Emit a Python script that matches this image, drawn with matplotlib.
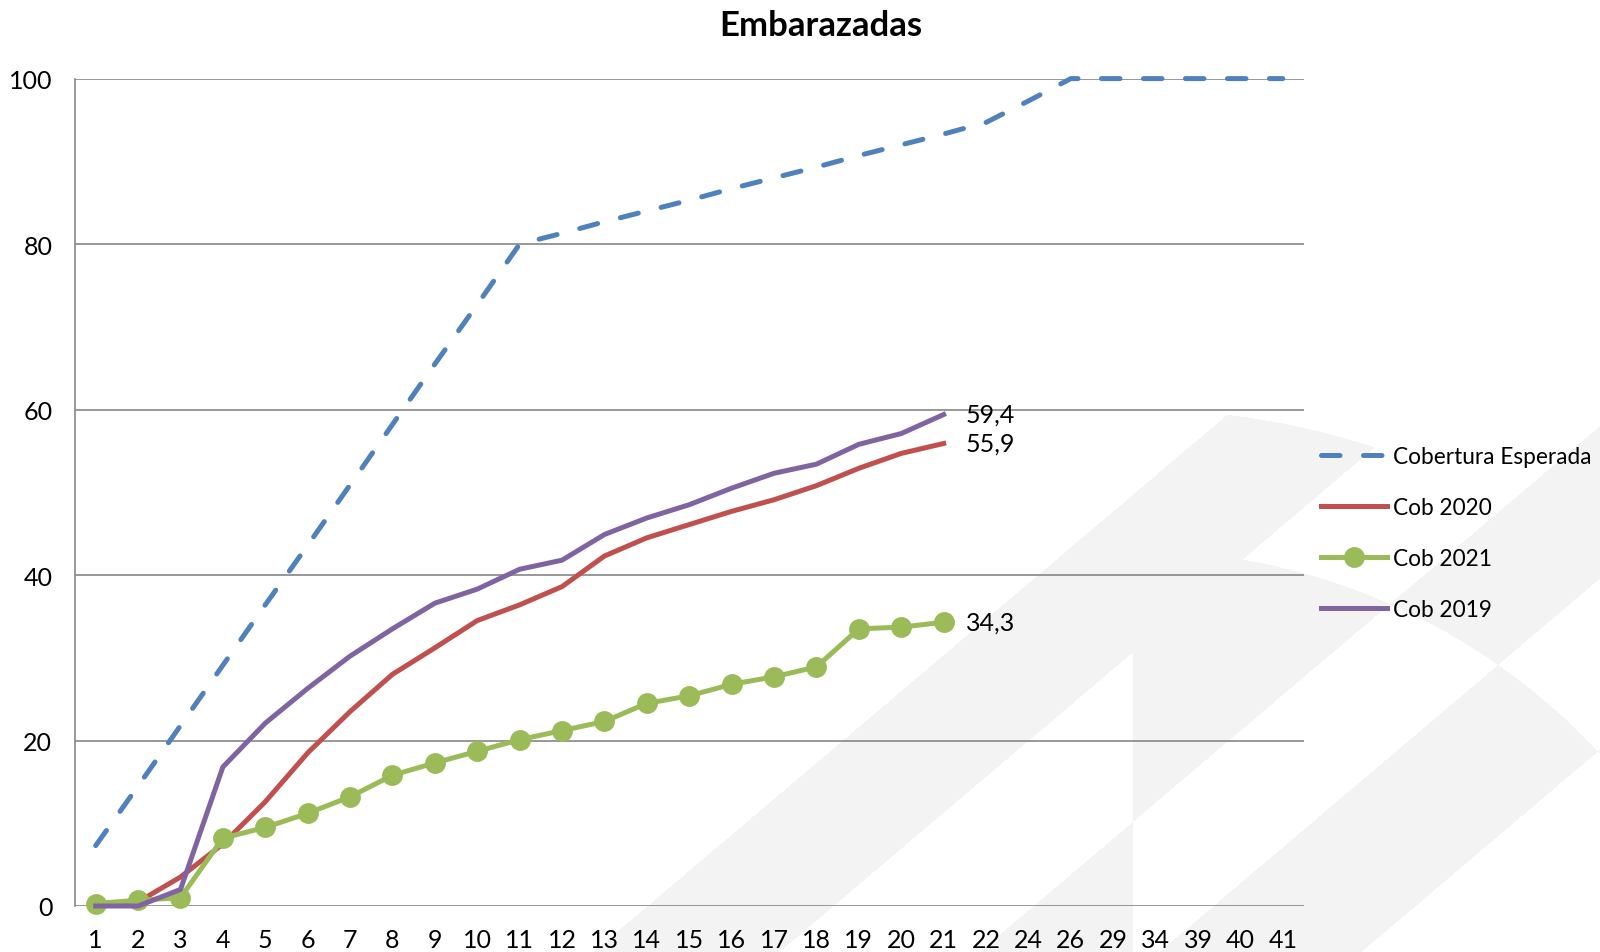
import numpy as np
import matplotlib
matplotlib.use("Agg")
from matplotlib import pyplot as plt

plt.rcParams['font.family'] = ['Lato', 'DejaVu Sans']

# semanas epidemiologicas
semanas = ['1', '2', '3', '4', '5', '6', '7', '8', '9', '10', '11', '12', '13', '14', '15',
           '16', '17', '18', '19', '20', '21', '22', '24', '26', '29', '34', '39', '40', '41']

cob_esperada = [7.3, 14.5, 21.8, 29.1, 36.4, 43.6, 50.9, 58.2, 65.5, 72.7, 80.0, 81.3, 82.7,
                84.0, 85.3, 86.7, 88.0, 89.3, 90.7, 92.0, 93.3, 94.7, 97.3, 100, 100, 100,
                100, 100, 100]
cob_2020 = [0.3, 0.5, 3.5, 7.5, 12.6, 18.5, 23.5, 28.0, 31.2, 34.5, 36.4, 38.6, 42.3, 44.5,
            46.1, 47.7, 49.1, 50.8, 52.9, 54.7, 55.9]
cob_2021 = [0.3, 0.7, 1.0, 8.2, 9.5, 11.2, 13.2, 15.8, 17.3, 18.7, 20.1, 21.2, 22.3, 24.5,
            25.4, 26.8, 27.7, 28.9, 33.5, 33.7, 34.3]
cob_2019 = [0.0, 0.0, 2.0, 16.8, 22.1, 26.3, 30.2, 33.5, 36.6, 38.3, 40.7, 41.8, 44.9, 46.9,
            48.5, 50.5, 52.3, 53.4, 55.8, 57.1, 59.4]

azul = '#4F81BD'
rojo = '#C0504D'
verde = '#9BBB59'
morado = '#8064A2'
gris = '#868686'

W, H = 1600, 953
fig = plt.figure(figsize=(W / 100, H / 100), dpi=100)

# marca de agua de fondo (logo gris claro)
bg = fig.add_axes([0, 0, 1, 1], zorder=0)
xx, yy = np.meshgrid(np.arange(W) + 0.5, np.arange(H) + 0.5)
u = xx + 1.18 * (yy - 700)
franja_a = (u >= 892) & (u <= 1078) & ((xx - 1133) ** 2 + (yy - 1188) ** 2 <= 778 ** 2)
franjas = ((u >= 1278) & (u <= 1458)) | (u >= 1660)
disco = (xx >= 1133) & ((xx - 1133) ** 2 + (yy - 1188) ** 2 <= 637 ** 2)
marca = franja_a | (franjas ^ disco)
img = np.ones((H, W, 3))
img[marca] = 0.955
bg.imshow(img, extent=(0, W, H, 0), aspect='auto', interpolation='nearest')
bg.set_axis_off()

ax = fig.add_axes([74.5 / W, 1 - 907 / H, (1304 - 74.5) / W, (907 - 79.6) / H], zorder=1)
ax.patch.set_alpha(0)

x = np.arange(len(semanas))
lw = 3.6
ax.plot(x, cob_esperada, color=azul, lw=lw, linestyle=(0, (3.7, 4.7)),
        dash_capstyle='round', label='Cobertura Esperada', clip_on=False, zorder=3)
ax.plot(x[:len(cob_2020)], cob_2020, color=rojo, lw=lw, label='Cob 2020',
        clip_on=False, zorder=4)
ax.plot(x[:len(cob_2021)], cob_2021, color=verde, lw=lw, marker='o', markersize=14,
        label='Cob 2021', clip_on=False, zorder=5)
ax.plot(x[:len(cob_2019)], cob_2019, color=morado, lw=lw, label='Cob 2019',
        clip_on=False, zorder=6)

# etiquetas del ultimo valor
for serie in (cob_2019, cob_2020, cob_2021):
    i = len(serie) - 1
    ax.annotate(('%.1f' % serie[i]).replace('.', ','), (x[i], serie[i]),
                xytext=(16, 0), textcoords='offset points', va='center', ha='left',
                fontsize=18, color='black')

ax.set_xlim(-0.5, len(semanas) - 0.5)
ax.set_ylim(0, 100)
ax.set_xticks(x)
ax.set_xticklabels(semanas)
ax.set_yticks([0, 20, 40, 60, 80, 100])
ax.tick_params(axis='both', length=0, labelsize=18, colors='black')
ax.tick_params(axis='x', pad=16)
ax.tick_params(axis='y', pad=16)

ax.yaxis.grid(True, color=gris, lw=1.2)
ax.set_axisbelow(True)
for s in ('top', 'right', 'bottom'):
    ax.spines[s].set_visible(False)
ax.spines['left'].set_color(gris)
ax.spines['left'].set_linewidth(1.2)

fig.text(821 / W, 1 - 26 / H, 'Embarazadas', ha='center', va='center',
         fontsize=25, fontweight='bold')

leg = ax.legend(loc='center left', bbox_to_anchor=(1321 / W, 1 - 534 / H),
                bbox_transform=fig.transFigure, frameon=False, fontsize=16.3,
                handlelength=2.9, handletextpad=0.3, labelspacing=1.32,
                borderpad=0, borderaxespad=0, numpoints=1)

fig.savefig('out.png', dpi=100)
